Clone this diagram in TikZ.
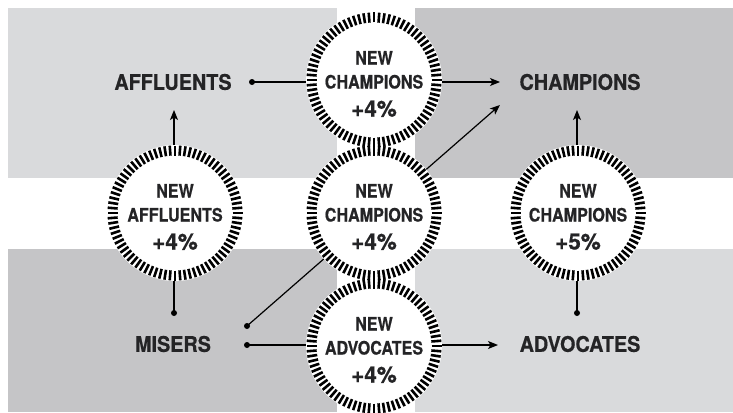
\documentclass[tikz,border=0pt]{standalone}
\usepackage{fontspec}
\setmainfont{TeX Gyre Heros}
\newfontfamily\condfont{TeX Gyre Heros}[FakeStretch=0.92, FakeBold=0.6]
\newfontfamily\ringfont{TeX Gyre Heros}[FakeStretch=0.87, FakeBold=0.6]
\newfontfamily\pctfont{TeX Gyre Heros}[FakeBold=0.6]
\usetikzlibrary{arrows.meta,calc}

\definecolor{lightpanel}{RGB}{217,218,220}
\definecolor{darkpanel}{RGB}{197,197,199}
\definecolor{inkgray}{RGB}{36,36,38}

\begin{document}
\begin{tikzpicture}[x=1pt, y=-1pt, inner sep=0pt,
	segment/.style={text=inkgray, font=\condfont\bfseries\fontsize{21.5}{24}\selectfont},
	ring/.style={circle, fill=white, minimum size=136pt},
	ringtext/.style={align=center, text=inkgray, font=\ringfont\bfseries\fontsize{18.5}{24}\selectfont},
	flow/.style={line width=1.2pt, -{Stealth[length=10pt, width=8pt, inset=2.5pt]}},
	dot/.style={circle, fill=black, minimum size=6pt},
	tick/.style={line width=2.6pt, black}]
	\useasboundingbox (0,0) rectangle (733,412);

	% panels
	\fill[lightpanel] (8,8) rectangle (337,178);
	\fill[darkpanel] (415,8) rectangle (733,178);
	\fill[darkpanel] (8,249) rectangle (337,412);
	\fill[lightpanel] (415,249) rectangle (733,412);

	% segments
	\node[segment] (affluents) at (173,82) {AFFLUENTS};
	\node[segment] (champions) at (580,82) {CHAMPIONS};
	\node[segment] (misers) at (173,344) {MISERS};
	\node[segment] (advocates) at (580,344) {ADVOCATES};

	% moves between segments
	\draw[flow] ($(affluents)+(79,0)$) node[dot]{} -- ($(champions)+(-80,0)$);
	\draw[flow] ($(misers)+(74,-18)$) node[dot]{} -- ($(champions)+(-80,23)$);
	\draw[flow] ($(misers)+(74,1)$) node[dot]{} -- ($(advocates)+(-82,1)$);
	\draw[flow] ($(misers)+(1,-31)$) node[dot]{} -- ($(affluents)+(1,28)$);
	\draw[flow] ($(advocates)+(-3,-31)$) node[dot]{} -- ($(champions)+(-3,28)$);

	% rings
	\node[ring] (ringtop) at (374,80) {};
	\node[ring] (ringmid) at (374,213) {};
	\node[ring] (ringbot) at (374,346) {};
	\node[ring] (ringleft) at (175,213) {};
	\node[ring] (ringright) at (578,213) {};
	\foreach \rg in {ringtop,ringmid,ringbot,ringleft,ringright}
		\foreach \ang in {0,4.5,...,355.5}
			\draw[tick] (\rg.center) ++(\ang:57.5) -- ++(\ang:10);

	\node[ringtext] (txttop) at ($(ringtop)+(0,4)$) {NEW\\CHAMPIONS\\[4pt]{\pctfont\bfseries\fontsize{22.5}{26}\selectfont +4\%}};
	\node[ringtext] (txtmid) at ($(ringmid)+(0,4)$) {NEW\\CHAMPIONS\\[4pt]{\pctfont\bfseries\fontsize{22.5}{26}\selectfont +4\%}};
	\node[ringtext] (txtbot) at ($(ringbot)+(0,4)$) {NEW\\ADVOCATES\\[4pt]{\pctfont\bfseries\fontsize{22.5}{26}\selectfont +4\%}};
	\node[ringtext] (txtleft) at ($(ringleft)+(0,4)$) {NEW\\AFFLUENTS\\[4pt]{\pctfont\bfseries\fontsize{22.5}{26}\selectfont +4\%}};
	\node[ringtext] (txtright) at ($(ringright)+(0,4)$) {NEW\\CHAMPIONS\\[4pt]{\pctfont\bfseries\fontsize{22.5}{26}\selectfont +5\%}};
\end{tikzpicture}
\end{document}
